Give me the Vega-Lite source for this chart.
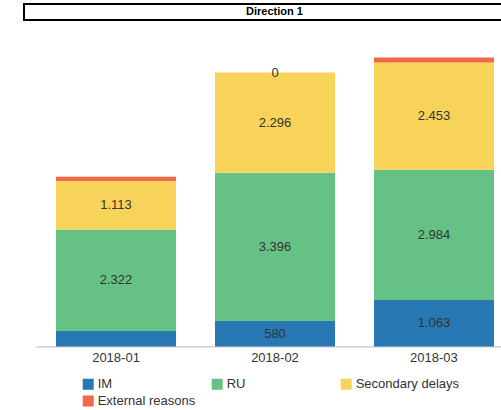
{
  "$schema": "https://vega.github.io/schema/vega-lite/v6.json",
  "padding": {"left": 23, "top": 3, "right": 0, "bottom": 0},
  "background": "white",
  "config": {
    "font": "Liberation Sans",
    "locale": {"number": {"decimal": ",", "thousands": ".", "grouping": [3], "currency": ["", " €"]}},
    "view": {"stroke": null}
  },
  "spacing": 11,
  "vconcat": [
    {
      "width": 501,
      "height": 16,
      "view": {"stroke": "#000000", "strokeWidth": 2},
      "data": {"values": [{"t": "Direction 1"}]},
      "mark": {"type": "text", "fontWeight": "bold", "fontSize": 11, "color": "#000000", "font": "Liberation Sans"},
      "encoding": {"text": {"field": "t"}}
    },
    {
      "width": 502,
      "height": 314.4,
      "data": {"values": [
        {"month": "2018-01", "cause": "IM", "k": 1, "value": 355},
        {"month": "2018-01", "cause": "RU", "k": 2, "value": 2322},
        {"month": "2018-01", "cause": "Secondary delays", "k": 3, "value": 1113},
        {"month": "2018-01", "cause": "External reasons", "k": 4, "value": 95},
        {"month": "2018-02", "cause": "IM", "k": 1, "value": 580},
        {"month": "2018-02", "cause": "RU", "k": 2, "value": 3396},
        {"month": "2018-02", "cause": "Secondary delays", "k": 3, "value": 2296},
        {"month": "2018-02", "cause": "External reasons", "k": 4, "value": 0},
        {"month": "2018-03", "cause": "IM", "k": 1, "value": 1063},
        {"month": "2018-03", "cause": "RU", "k": 2, "value": 2984},
        {"month": "2018-03", "cause": "Secondary delays", "k": 3, "value": 2453},
        {"month": "2018-03", "cause": "External reasons", "k": 4, "value": 115}
      ]},
      "transform": [
        {"stack": "value", "groupby": ["month"], "sort": [{"field": "k", "order": "ascending"}], "as": ["v0", "v1"]},
        {"calculate": "(datum.v0 + datum.v1) / 2", "as": "mid"}
      ],
      "encoding": {
        "x": {
          "field": "month", "type": "nominal",
          "scale": {"paddingInner": 0.245, "paddingOuter": 0.2013},
          "axis": {"title": null, "labelAngle": 0, "ticks": false, "domainColor": "#b8b8cc", "domainWidth": 1, "domainDash": [0, 12, 600], "labelFontSize": 13, "labelColor": "#333333", "labelPadding": 5, "labelFont": "Liberation Sans"}
        }
      },
      "layer": [
        {
          "mark": {"type": "bar"},
          "encoding": {
            "y": {
              "field": "v0", "type": "quantitative",
              "scale": {"domain": [0, 7200], "nice": false, "zero": true},
              "axis": null
            },
            "y2": {"field": "v1"},
            "color": {
              "field": "cause", "type": "nominal",
              "scale": {"domain": ["IM", "RU", "Secondary delays", "External reasons"], "range": ["#2878b4", "#66c284", "#f8d35a", "#f06848"]},
              "legend": {
                "title": null, "orient": "none", "legendX": 57.7, "legendY": 373.5,
                "direction": "horizontal", "columns": 3, "gridAlign": "all", "columnPadding": 9, "rowPadding": 3,
                "symbolType": "square", "symbolSize": 121, "symbolStrokeWidth": 0, "padding": 0,
                "labelFontSize": 13, "labelColor": "#333333", "labelOffset": 3, "labelFont": "Liberation Sans"
              }
            }
          }
        },
        {
          "transform": [{"filter": "datum.value >= 500 || datum.value == 0"}],
          "mark": {"type": "text", "fontSize": 13, "color": "#333333", "baseline": "middle", "font": "Liberation Sans"},
          "encoding": {
            "y": {"field": "mid", "type": "quantitative"},
            "text": {"field": "value", "type": "quantitative", "format": ",.0f"}
          }
        }
      ]
    }
  ]
}
